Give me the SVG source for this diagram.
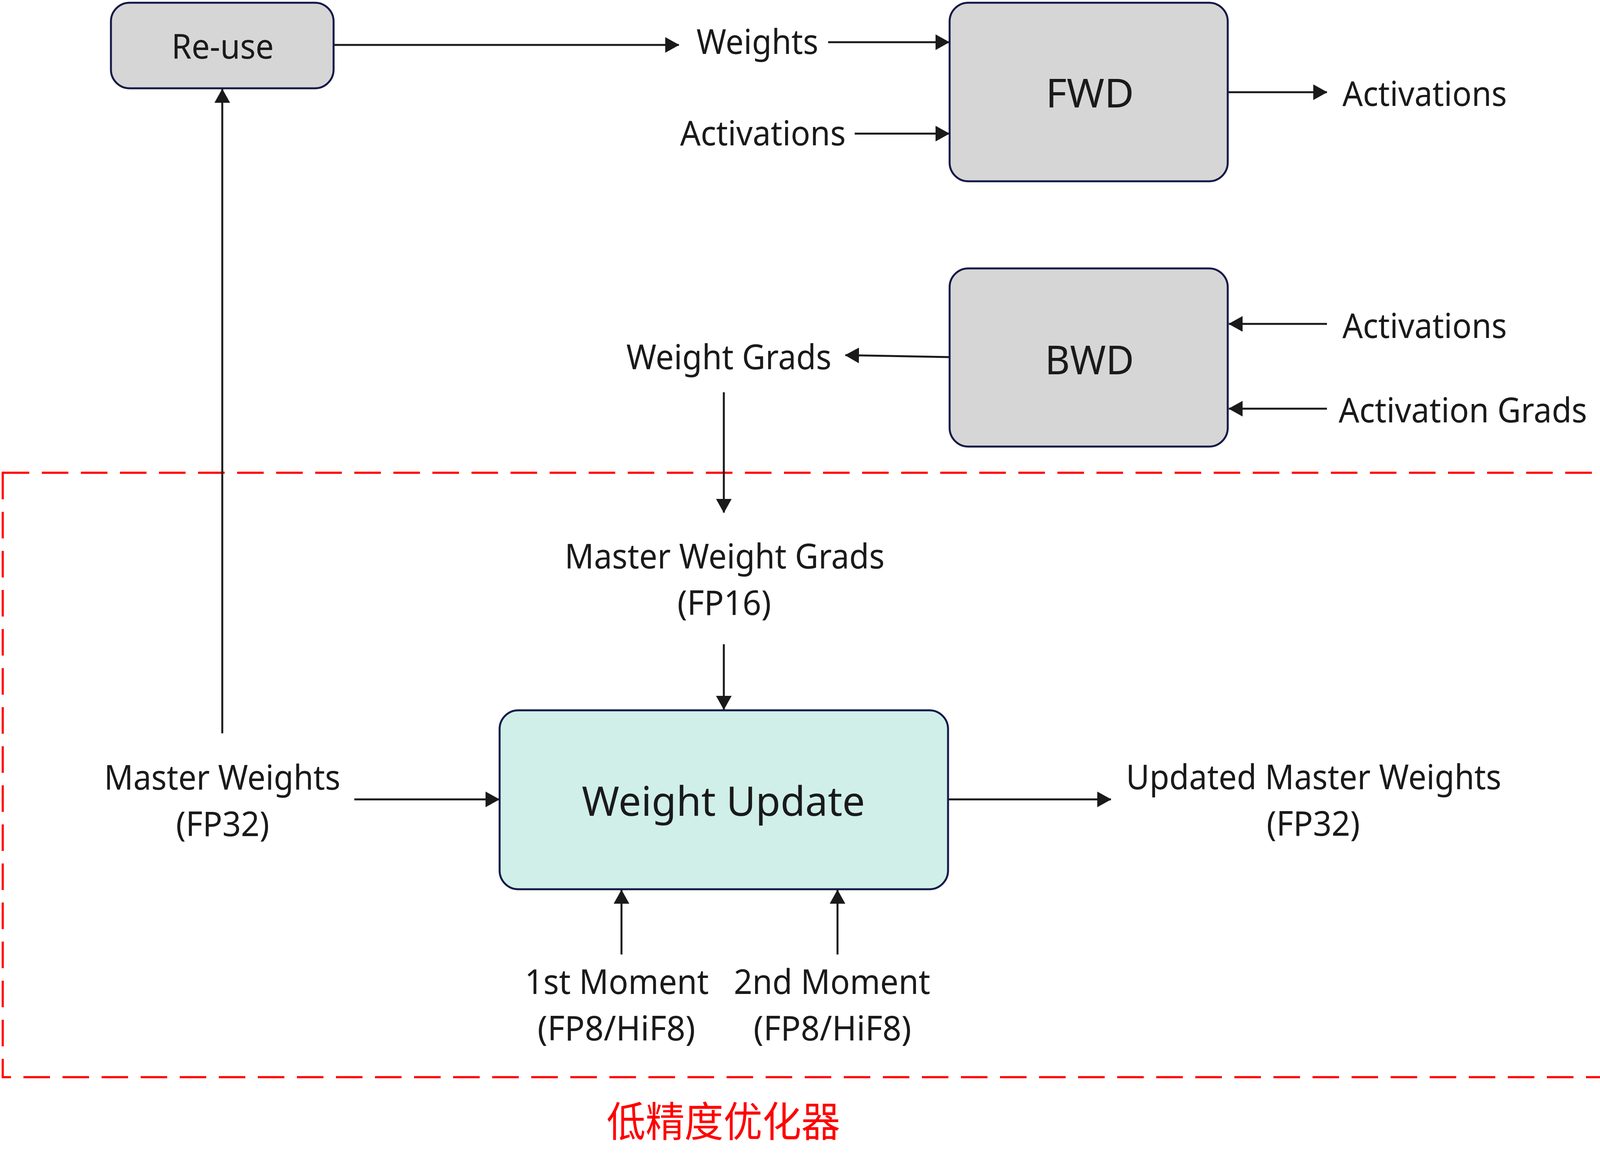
<svg xmlns="http://www.w3.org/2000/svg" width="4150" height="2969" viewBox="0 0 4150 2969">
<style>
.box{stroke:#141a48;stroke-width:5}
.gray{fill:#d6d6d6}
.mint{fill:#cfefe8}
.t{font-family:"Noto Sans","Open Sans","DejaVu Sans",sans-serif;font-size:87px;fill:#1a1a1a;text-anchor:middle}
.big{font-size:103px}
.cn{font-family:"Noto Sans CJK SC","Noto Sans CJK TC",sans-serif;font-size:106px;fill:#ff0000;text-anchor:middle}
.c{stroke:#1a1a1a;stroke-width:5;fill:none;marker-end:url(#ah)}
.dash{fill:none;stroke:#ff0000;stroke-width:5.5;stroke-dasharray:68 32}
</style>
<defs>
<marker id="ah" markerUnits="userSpaceOnUse" markerWidth="36" markerHeight="40" viewBox="0 0 36 40" refX="35" refY="20" orient="auto">
<path d="M0,0 L36,20 L0,40 z" fill="#1a1a1a"/>
</marker>
</defs>
<rect width="4150" height="2969" fill="#ffffff"/>

<g id="group-optimizer">
<rect class="dash" x="7" y="1210" width="4137" height="1547"/>
<text class="cn" x="1852" y="2909" textLength="598" lengthAdjust="spacingAndGlyphs">低精度优化器</text>
</g>

<g id="connectors">
<line class="c" x1="854" y1="115" x2="1738" y2="115"/>
<line class="c" x1="2120" y1="108" x2="2430" y2="108"/>
<line class="c" x1="2188" y1="342" x2="2430" y2="342"/>
<line class="c" x1="3143" y1="236" x2="3397" y2="236"/>
<line class="c" x1="3397" y1="829" x2="3146" y2="829"/>
<line class="c" x1="3397" y1="1046" x2="3146" y2="1046"/>
<line class="c" x1="2430" y1="914" x2="2164" y2="909"/>
<line class="c" x1="1853" y1="1004" x2="1853" y2="1312"/>
<line class="c" x1="1853" y1="1649" x2="1853" y2="1816"/>
<line class="c" x1="907" y1="2046" x2="1278" y2="2046"/>
<line class="c" x1="569" y1="1877" x2="569" y2="228"/>
<line class="c" x1="2428" y1="2046" x2="2844" y2="2046"/>
<line class="c" x1="1591" y1="2443" x2="1591" y2="2278"/>
<line class="c" x1="2144" y1="2443" x2="2144" y2="2278"/>
</g>

<g id="node-reuse">
<rect class="box gray" x="284" y="7" width="570" height="219" rx="48"/>
<text class="t" x="570" y="150" textLength="262" lengthAdjust="spacingAndGlyphs">Re-use</text>
</g>

<g id="label-weights">
<text class="t" x="1939" y="138" textLength="312" lengthAdjust="spacingAndGlyphs">Weights</text>
</g>
<g id="label-activations-in">
<text class="t" x="1953" y="372" textLength="424" lengthAdjust="spacingAndGlyphs">Activations</text>
</g>

<g id="node-fwd">
<rect class="box gray" x="2431" y="7" width="712" height="457" rx="48"/>
<text class="t big" x="2790" y="275" textLength="226" lengthAdjust="spacingAndGlyphs">FWD</text>
</g>
<g id="label-activations-out">
<text class="t" x="3647" y="271" textLength="421" lengthAdjust="spacingAndGlyphs">Activations</text>
</g>

<g id="node-bwd">
<rect class="box gray" x="2431" y="687" width="712" height="456" rx="48"/>
<text class="t big" x="2789" y="958" textLength="228" lengthAdjust="spacingAndGlyphs">BWD</text>
</g>
<g id="label-activations-bwd">
<text class="t" x="3647" y="865" textLength="421" lengthAdjust="spacingAndGlyphs">Activations</text>
</g>
<g id="label-activation-grads">
<text class="t" x="3745" y="1081" textLength="636" lengthAdjust="spacingAndGlyphs">Activation Grads</text>
</g>
<g id="label-weight-grads">
<text class="t" x="1866" y="945" textLength="525" lengthAdjust="spacingAndGlyphs">Weight Grads</text>
</g>

<g id="label-master-weight-grads">
<text class="t" x="1855" y="1455" textLength="819" lengthAdjust="spacingAndGlyphs">Master Weight Grads</text>
<text class="t" x="1854" y="1574" textLength="240" lengthAdjust="spacingAndGlyphs">(FP16)</text>
</g>

<g id="node-weight-update">
<rect class="box mint" x="1279" y="1818" width="1148" height="458" rx="48"/>
<text class="t" x="1852" y="2088" font-size="104" textLength="725" lengthAdjust="spacingAndGlyphs" style="font-size:104px">Weight Update</text>
</g>

<g id="label-master-weights">
<text class="t" x="569" y="2021" textLength="605" lengthAdjust="spacingAndGlyphs">Master Weights</text>
<text class="t" x="570" y="2140" textLength="239" lengthAdjust="spacingAndGlyphs">(FP32)</text>
</g>

<g id="label-updated-master-weights">
<text class="t" x="3363" y="2020" textLength="961" lengthAdjust="spacingAndGlyphs">Updated Master Weights</text>
<text class="t" x="3362" y="2139" textLength="239" lengthAdjust="spacingAndGlyphs">(FP32)</text>
</g>

<g id="label-1st-moment">
<text class="t" x="1579" y="2544" textLength="471" lengthAdjust="spacingAndGlyphs">1st Moment</text>
<text class="t" x="1578" y="2663" textLength="404" lengthAdjust="spacingAndGlyphs">(FP8/HiF8)</text>
</g>
<g id="label-2nd-moment">
<text class="t" x="2130" y="2544" textLength="503" lengthAdjust="spacingAndGlyphs">2nd Moment</text>
<text class="t" x="2131" y="2663" textLength="404" lengthAdjust="spacingAndGlyphs">(FP8/HiF8)</text>
</g>
</svg>
